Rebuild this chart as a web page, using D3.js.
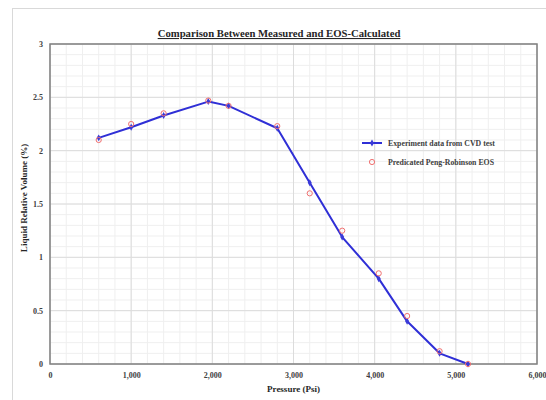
<!DOCTYPE html>
<html>
<head>
<meta charset="utf-8">
<script src="https://cdn.jsdelivr.net/npm/d3@7"></script>
<style>
  body { margin: 0; background: #fff; }
  text { font-family: "Liberation Serif", "Times New Roman", serif; font-weight: bold; }
</style>
</head>
<body>
<div id="chart"></div>
<script>
// pressure (psi) of each CVD stage
var pressure = [600, 1000, 1400, 1950, 2200, 2800, 3200, 3600, 4050, 4400, 4800, 5150];
// measured liquid dropout, %
var measured = [2.12, 2.22, 2.33, 2.46, 2.42, 2.21, 1.70, 1.19, 0.80, 0.40, 0.10, 0.0];
// Peng-Robinson prediction, %
var predicted = [2.10, 2.25, 2.35, 2.47, 2.42, 2.23, 1.60, 1.25, 0.85, 0.45, 0.12, 0.0];
var xTicks = [0, 1000, 2000, 3000, 4000, 5000, 6000];
var yTicks = [0, 0.5, 1, 1.5, 2, 2.5, 3];
var seriesNames = ["Experiment data from CVD test", "Predicated Peng-Robinson EOS"];

var width = 546,
    height = 400,
    margin = {top: 44, right: 9, bottom: 36, left: 50};

var svg = d3.select("#chart").append("svg")
    .attr("width", width)
    .attr("height", height);

// outer chart frame
svg.append("rect")
    .attr("x", 12.5).attr("y", 8.5)
    .attr("width", 560).attr("height", 420)
    .attr("fill", "none")
    .attr("stroke", "#d9d9d9");

var w = width - margin.left - margin.right,
    h = height - margin.top - margin.bottom;

var x = d3.scaleLinear().domain([0, 6000]).range([0, w]);
var y = d3.scaleLinear().domain([0, 3]).range([h, 0]);

var g = svg.append("g").attr("transform", "translate(" + margin.left + "," + margin.top + ")");

// minor grid
g.append("g").selectAll("line")
    .data(d3.range(0, 6001, 200))
    .enter().append("line")
      .attr("x1", function(d) { return x(d); })
      .attr("x2", function(d) { return x(d); })
      .attr("y1", 0).attr("y2", h)
      .attr("stroke", "#efefef");
g.append("g").selectAll("line")
    .data(d3.range(0, 31, 1).map(function(d) { return d / 10; }))
    .enter().append("line")
      .attr("y1", function(d) { return y(d); })
      .attr("y2", function(d) { return y(d); })
      .attr("x1", 0).attr("x2", w)
      .attr("stroke", "#efefef");

// major grid
g.append("g").selectAll("line")
    .data(xTicks)
    .enter().append("line")
      .attr("x1", function(d) { return x(d); })
      .attr("x2", function(d) { return x(d); })
      .attr("y1", 0).attr("y2", h)
      .attr("stroke", "#dcdcdc");
g.append("g").selectAll("line")
    .data(yTicks)
    .enter().append("line")
      .attr("y1", function(d) { return y(d); })
      .attr("y2", function(d) { return y(d); })
      .attr("x1", 0).attr("x2", w)
      .attr("stroke", "#dcdcdc");

// axes (labels only, plot border drawn separately)
var xAxis = g.append("g")
    .attr("transform", "translate(0," + h + ")")
    .call(d3.axisBottom(x).tickValues(xTicks).tickSize(0).tickPadding(8).tickFormat(d3.format(",")));
xAxis.select(".domain").remove();
xAxis.selectAll("text").attr("font-size", "8px").attr("fill", "#404040")
    .style("font-family", "Liberation Serif");

var yAxis = g.append("g")
    .call(d3.axisLeft(y).tickValues(yTicks).tickSize(0).tickPadding(7).tickFormat(function(d) { return d; }));
yAxis.select(".domain").remove();
yAxis.selectAll("text").attr("font-size", "8px").attr("fill", "#404040")
    .style("font-family", "Liberation Serif");

g.append("rect")
    .attr("width", w).attr("height", h)
    .attr("fill", "none")
    .attr("stroke", "#808080")
    .attr("stroke-width", 1.5);

// title and axis titles
svg.append("text")
    .attr("x", 279).attr("y", 37)
    .attr("text-anchor", "middle")
    .attr("font-size", "10.7px")
    .attr("fill", "#262626")
    .attr("text-decoration", "underline")
    .text("Comparison Between Measured and EOS-Calculated");

svg.append("text")
    .attr("x", margin.left + w / 2).attr("y", 392)
    .attr("text-anchor", "middle")
    .attr("font-size", "9px")
    .attr("fill", "#262626")
    .text("Pressure (Psi)");

svg.append("text")
    .attr("transform", "translate(27," + (margin.top + h / 2 - 6) + ") rotate(-90)")
    .attr("text-anchor", "middle")
    .attr("font-size", "9px")
    .attr("fill", "#262626")
    .text("Liquid Relative Volume (%)");

// measured line
var line = d3.line()
    .x(function(d, i) { return x(pressure[i]); })
    .y(function(d) { return y(d); });

g.append("path")
    .datum(measured)
    .attr("fill", "none")
    .attr("stroke", "#2f2fd6")
    .attr("stroke-width", 2)
    .attr("stroke-linejoin", "round")
    .attr("d", line);

var diamond = d3.symbol().type(d3.symbolDiamond).size(14);
g.append("g").selectAll("path")
    .data(measured)
    .enter().append("path")
      .attr("transform", function(d, i) { return "translate(" + x(pressure[i]) + "," + y(d) + ")"; })
      .attr("d", diamond)
      .attr("fill", "#3a3ad8");

// predicted circles
g.append("g").selectAll("circle")
    .data(predicted)
    .enter().append("circle")
      .attr("cx", function(d, i) { return x(pressure[i]); })
      .attr("cy", function(d) { return y(d); })
      .attr("r", 2.6)
      .attr("fill", "none")
      .attr("stroke", "#f07070")
      .attr("stroke-width", 1);

// legend
var legend = svg.append("g").attr("transform", "translate(362,143)");
legend.append("line")
    .attr("x1", 0).attr("x2", 20)
    .attr("stroke", "#2f2fd6").attr("stroke-width", 2);
legend.append("path")
    .attr("transform", "translate(10,0)")
    .attr("d", diamond).attr("fill", "#3a3ad8");
legend.append("circle")
    .attr("cx", 10).attr("cy", 19).attr("r", 2.6)
    .attr("fill", "none").attr("stroke", "#f07070");
legend.selectAll("text.lbl")
    .data(seriesNames)
    .enter().append("text")
      .attr("class", "lbl")
      .attr("x", 26)
      .attr("y", function(d, i) { return i * 19 + 2.8; })
      .attr("font-size", "7.8px")
      .attr("fill", "#404040")
      .text(function(d) { return d; });
</script>
</body>
</html>
